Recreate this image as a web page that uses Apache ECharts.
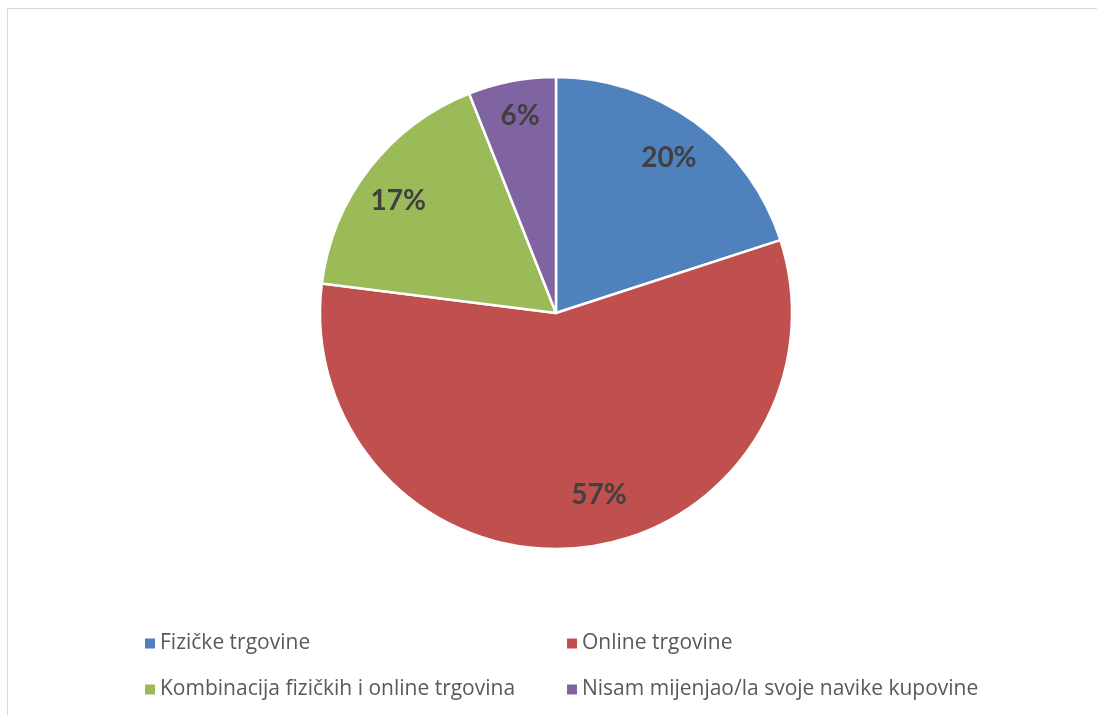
<!DOCTYPE html>
<html><head><meta charset="utf-8">
<script src="https://cdn.jsdelivr.net/npm/echarts@6/dist/echarts.min.js"></script>
<style>
html,body{margin:0;padding:0;background:#fff;}
#frame{position:absolute;left:7px;top:8px;width:1200px;height:800px;border-left:1px solid #d9d9d9;border-top:1px solid #d9d9d9;}
#c{position:absolute;left:0;top:0;width:1097px;height:715px;}
</style></head><body>
<div id="frame"></div>
<div id="c"></div>
<script>
const categories = ['Fizičke trgovine','Online trgovine','Kombinacija fizičkih i online trgovina','Nisam mijenjao/la svoje navike kupovine'];
const values = [20, 57, 17, 6];
const colors = ['#4F81BD','#C0504D','#9BBB59','#8064A2'];
const labelOffsets = [[0,0],[25,-9],[-6,6],[0,-8]];

const chart = echarts.init(document.getElementById('c'));
const data = categories.map((n,i)=>({name:n,value:values[i],itemStyle:{color:colors[i]}}));
const legendFont = '"Open Sans", sans-serif';
const labelFont = 'Lato, "Open Sans", sans-serif';
chart.setOption({
  animation:false,
  legend:[
    {data:[categories[0],categories[2]],orient:'vertical',left:140,top:628,itemWidth:10,itemHeight:10,itemGap:25,icon:'rect',itemStyle:{borderWidth:0},
     textStyle:{fontSize:21,color:'#595959',fontFamily:legendFont},selectedMode:false},
    {data:[categories[1],categories[3]],orient:'vertical',left:562,top:628,itemWidth:10,itemHeight:10,itemGap:25,icon:'rect',itemStyle:{borderWidth:0},
     textStyle:{fontSize:21,color:'#595959',fontFamily:legendFont},selectedMode:false}
  ],
  series:[
    {type:'pie',center:[556,313],radius:[0,236],startAngle:90,clockwise:true,
     data:data,label:{show:false},labelLine:{show:false},
     itemStyle:{borderColor:'#fff',borderWidth:2.5},emphasis:{disabled:true},silent:true},
    {type:'pie',center:[556,313],radius:[142,236],startAngle:90,clockwise:true,
     data:categories.map((n,i)=>({name:n+' ',value:values[i],label:{offset:labelOffsets[i]}})),
     itemStyle:{color:'transparent',borderWidth:0},
     label:{show:true,position:'inside',formatter:p=>values[p.dataIndex]+'%',fontSize:28,fontWeight:'bold',color:'#404040',fontFamily:labelFont},
     labelLine:{show:false},emphasis:{disabled:true},silent:true}
  ]
});
</script>
</body></html>
